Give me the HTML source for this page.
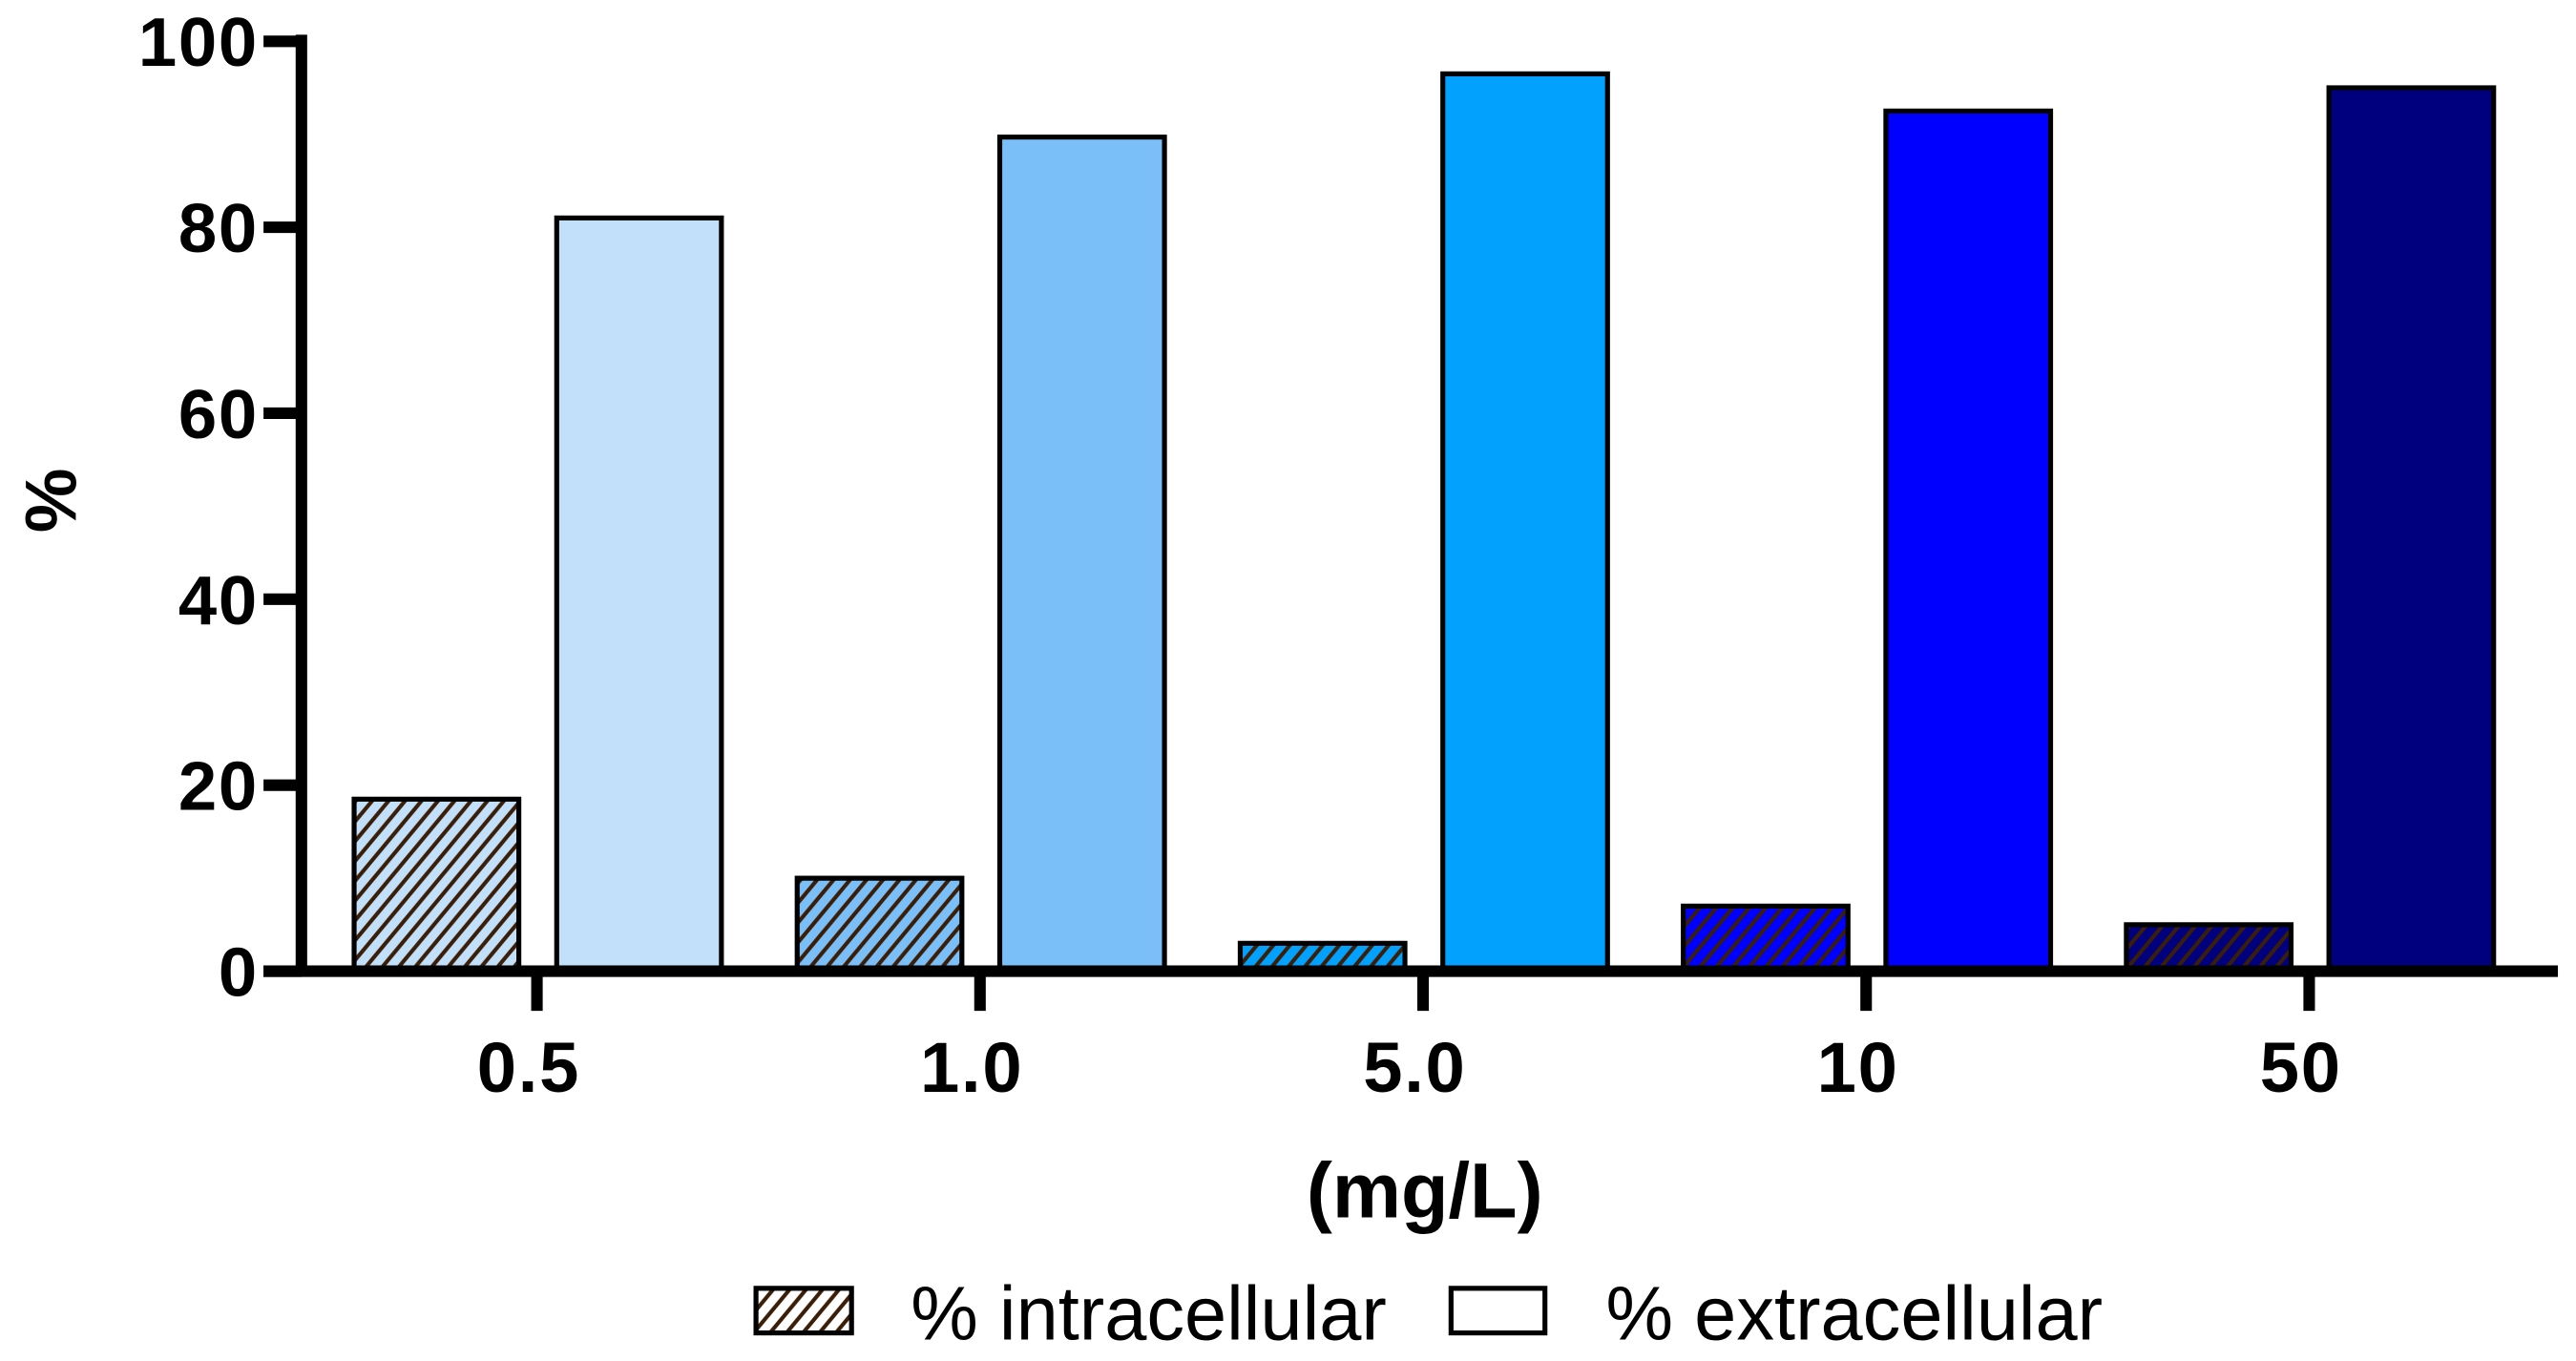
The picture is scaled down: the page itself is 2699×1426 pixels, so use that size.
<!DOCTYPE html>
<html><head><meta charset="utf-8"><style>
html,body{margin:0;padding:0;background:#fff;}
svg{display:block;}
text{font-family:"Liberation Sans",Arial,sans-serif;}
</style></head>
<body>
<svg id="chart" width="2699" height="1426" viewBox="0 0 1564 824" preserveAspectRatio="none" xmlns="http://www.w3.org/2000/svg">
<defs id="defs"></defs>
<g id="plot"></g>
</svg>
<script>
const categories = ["0.5","1.0","5.0","10","50"];
const intracellular = [18.5, 10, 3, 7, 5];
const extracellular = [81, 89.7, 96.5, 92.5, 95];
const yTicks = [0,20,40,60,80,100];
const colors = ["#c2e0fa","#7bbff8","#02a1fe","#0000fe","#00007f"];

const NS="http://www.w3.org/2000/svg";
const defs=document.getElementById('defs');
const g=document.getElementById('plot');
const y0=588, yTop=25, x0=183;
function yScale(v){return y0-(v/100)*(y0-yTop);}
function xScale(i){return 326+i*269;}
function mk(tag,attrs,parent){const e=document.createElementNS(NS,tag);for(const k in attrs)e.setAttribute(k,attrs[k]);(parent||g).appendChild(e);return e;}

function hatch(id,fill){
  const p=mk('pattern',{id:id,patternUnits:'userSpaceOnUse',width:10,height:12},defs);
  mk('rect',{x:0,y:0,width:10,height:12,fill:fill},p);
  mk('path',{d:'M-2,14.4 L12,-2.4 M-12,14.4 L2,-2.4 M8,14.4 L22,-2.4',stroke:'#3a1e08','stroke-width':2.4,fill:'none'},p);
}
colors.forEach((c,i)=>hatch('hatch'+i,c));
hatch('hatchW','#fff');

categories.forEach((c,i)=>{
  const cx=xScale(i);
  const yi=yScale(intracellular[i]);
  const r1=mk('rect',{x:cx-111,y:yi,width:100,height:y0-yi,fill:'url(#hatch'+i+')',stroke:'#000','stroke-width':3});
  
  
  const ye=yScale(extracellular[i]);
  const r2=mk('rect',{x:cx+12,y:ye,width:100,height:y0-ye,fill:colors[i],stroke:'#000','stroke-width':3});
  
  
  const t=mk('line',{x1:cx,y1:y0,x2:cx,y2:612,stroke:'#000','stroke-width':7});
  
  
  const l=mk('text',{x:cx-5,y:661,'text-anchor':'middle','font-size':43,'font-weight':'bold','letter-spacing':1});
  l.textContent=c;
  
  
});

const ya=mk('line',{x1:x0,y1:21,x2:x0,y2:591,stroke:'#000','stroke-width':7});


const xa=mk('line',{x1:160,y1:y0,x2:1553,y2:y0,stroke:'#000','stroke-width':7});


yTicks.forEach(v=>{
  const y=yScale(v);
  const t=mk('line',{x1:160,y1:y,x2:x0,y2:y,stroke:'#000','stroke-width':7});
  
  
  const l=mk('text',{x:157,y:y+15,'text-anchor':'end','font-size':42,'font-weight':'bold','letter-spacing':1});
  l.textContent=v;
  
  
});
const yt=mk('text',{x:0,y:0,'text-anchor':'middle','font-size':44,'font-weight':'bold',transform:'translate(46,303) rotate(-90)'});
yt.textContent='%';


const xt=mk('text',{x:865,y:737,'text-anchor':'middle','font-size':47,'font-weight':'bold'});
xt.textContent='(mg/L)';



const lb1=mk('rect',{x:459,y:780,width:58,height:27,fill:'url(#hatchW)',stroke:'#000','stroke-width':3});


const lt1=mk('text',{x:553,y:811,'font-size':46});
lt1.textContent='% intracellular';


const lb2=mk('rect',{x:881,y:780,width:57,height:27,fill:'#fff',stroke:'#000','stroke-width':3});


const lt2=mk('text',{x:975,y:811,'font-size':46});
lt2.textContent='% extracellular';


</script>
</body></html>
